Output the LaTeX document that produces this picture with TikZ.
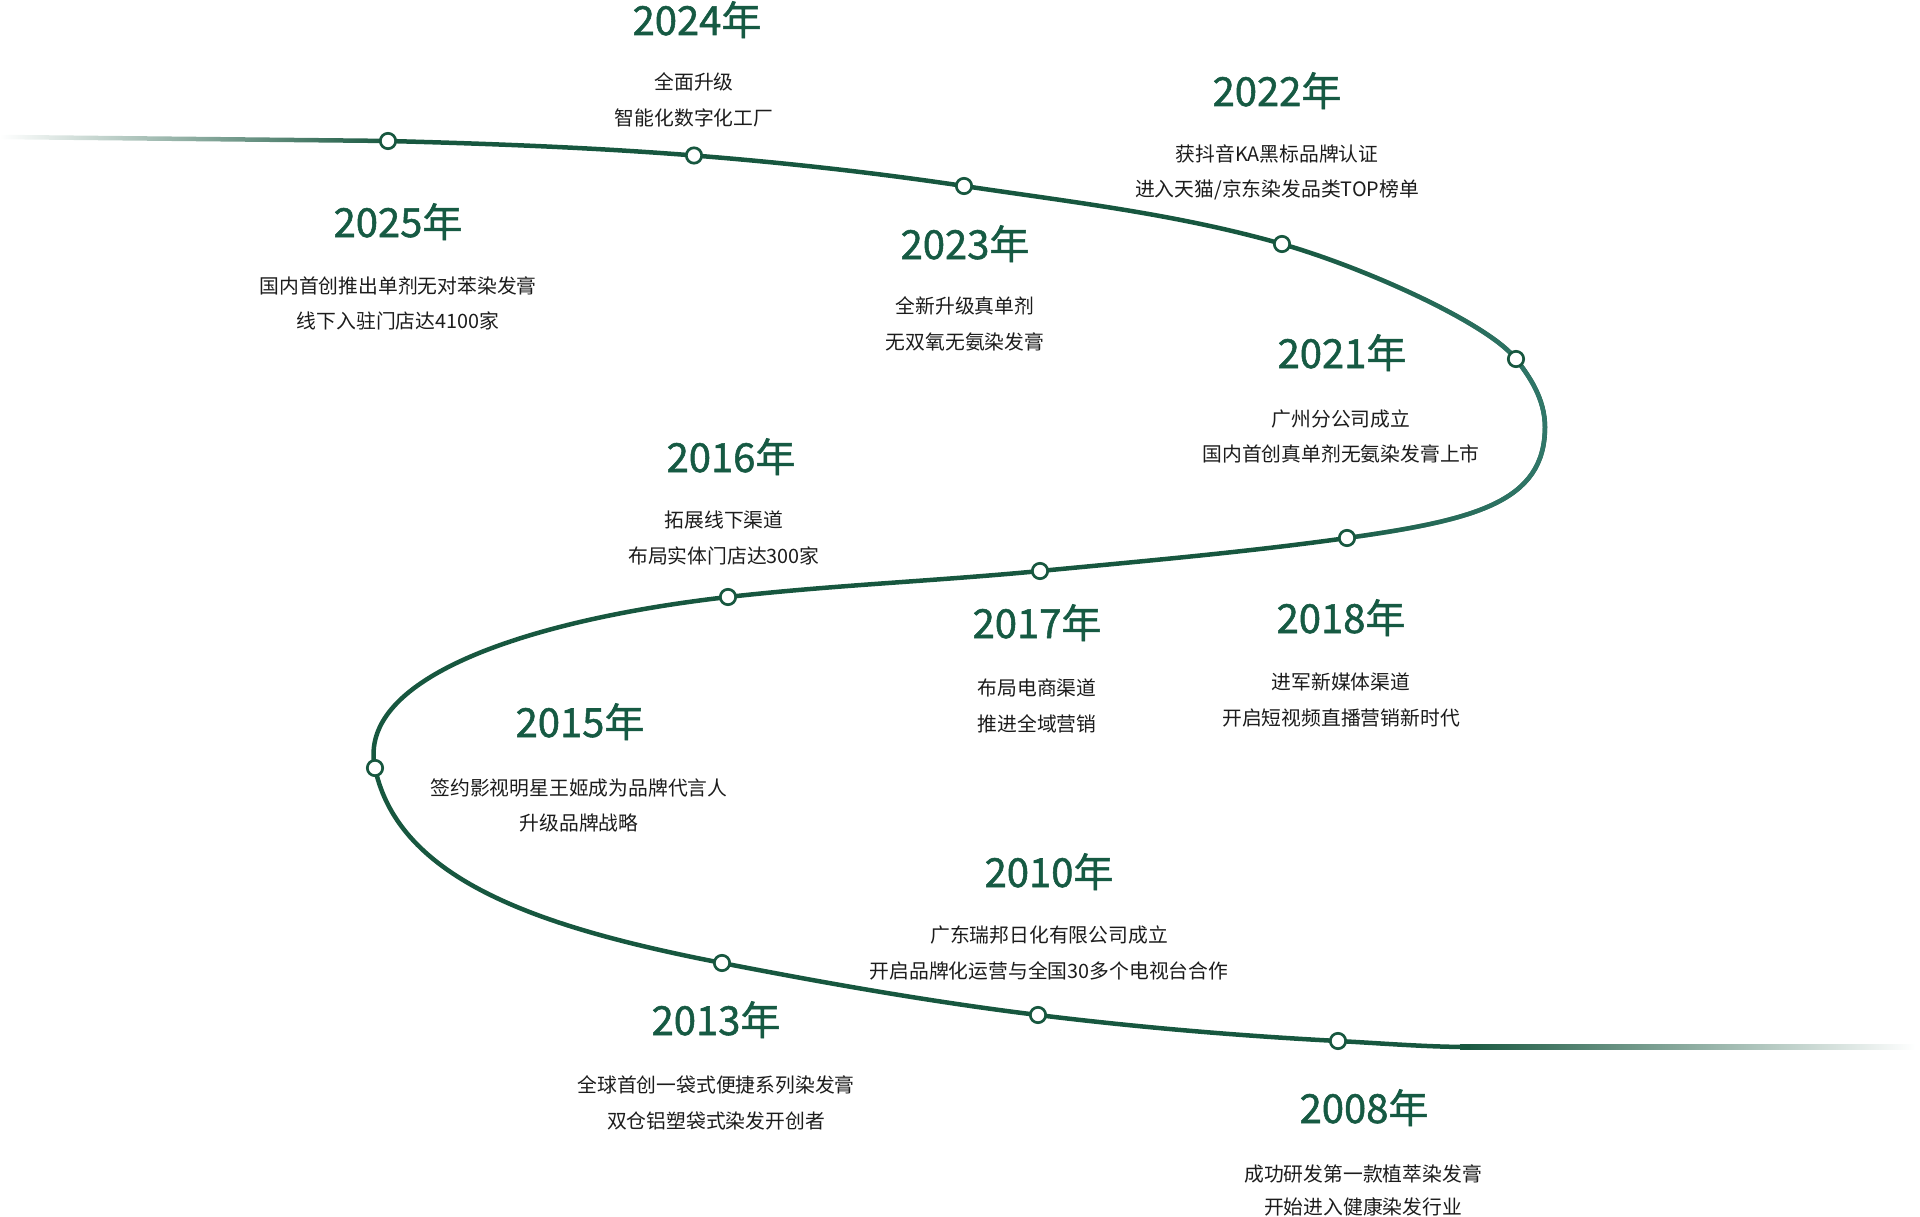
\documentclass[tikz,border=0pt]{standalone}
\usepackage{fontspec}
\usetikzlibrary{fadings}
\setmainfont{Noto Sans CJK SC}
\newfontfamily\yrfam[FakeBold=1.3]{Noto Sans CJK SC}
\definecolor{tlgreen}{HTML}{17573F}
\definecolor{tllight}{HTML}{31786A}
\definecolor{yrgreen}{HTML}{165A43}
\definecolor{txtc}{HTML}{1C1C1C}
\newcommand\yrfont{\yrfam\fontsize{40}{48}\selectfont}
\newcommand\dsfont{\fontsize{19.8}{24}\selectfont}
\tikzfading[name=fadeinright, left color=transparent!100, right color=transparent!0]
\begin{document}
\begin{tikzpicture}[x=1pt,y=-1pt,
  year/.style={font=\yrfont, text=yrgreen, anchor=base, inner sep=0pt},
  desc/.style={font=\dsfont, text=txtc, anchor=base, inner sep=0pt},
  dot/.style={circle, draw=tlgreen, fill=white, line width=2.7pt, minimum size=15.4pt, inner sep=0pt},
  curve/.style={draw=tlgreen, line width=4.5pt}]
\useasboundingbox (0,0) rectangle (1920,1217);

% points on the timeline
\coordinate (p2025) at (388,141);
\coordinate (p2024) at (694,155.5);
\coordinate (p2023) at (964,186);
\coordinate (p2022) at (1282,244);
\coordinate (p2021) at (1516,359);
\coordinate (pR) at (1545,427);
\coordinate (p2018) at (1347,538);
\coordinate (p2017) at (1040,571);
\coordinate (p2016) at (728,597);
\coordinate (p2015) at (375,768);
\coordinate (p2013) at (722,963);
\coordinate (p2010) at (1038,1015);
\coordinate (p2008) at (1338,1041);
\coordinate (pE) at (1470,1047);

% faded ends
\shade[left color=white, middle color=tlgreen!35, right color=tlgreen]
  (0,134.75) -- (392,138.75) -- (392,143.25) -- (0,139.25) -- cycle;
\shade[left color=tlgreen, middle color=tlgreen!50, right color=white]
  (1460,1044.75) rectangle (1915,1049.25);

% main curve
\draw[curve] (p2025)
 .. controls +(1.5:102) and +(184.5:102) .. (p2024)
 .. controls +(4.5:90) and +(188.5:90) .. (p2023)
 .. controls +(8.5:108) and +(196:108) .. (p2022)
 .. controls +(16:87) and +(232:45) .. (p2021)
 .. controls +(52:22) and +(270:28) .. (pR)
 .. controls +(90:75) and +(-8:130) .. (p2018)
 .. controls +(172:102) and +(-5.5:102) .. (p2017)
 .. controls +(174.5:104) and +(-6.5:104) .. (p2016)
 .. controls +(173.5:196) and +(258:94) .. (p2015)
 .. controls +(78:115) and +(191:185) .. (p2013)
 .. controls +(11:107) and +(187:106) .. (p2010)
 .. controls +(7:100) and +(183:100) .. (p2008)
 .. controls +(3:44) and +(180:44) .. (pE);

% lighter tint on the right bend
\draw[draw=tllight, line width=4.5pt, path fading=fadeinright] (p2022)
 .. controls +(16:87) and +(232:45) .. (p2021)
 .. controls +(52:22) and +(270:28) .. (pR)
 .. controls +(90:75) and +(-8:130) .. (p2018);

% dots
\foreach \n in {2025,2024,2023,2022,2021,2018,2017,2016,2015,2013,2010,2008}
  \node[dot] (d\n) at (p\n) {};

% labels
\node[year] (y2024) at (697,35) {2024年};
\node[desc] (a2024) at (694,90) {全面升级};
\node[desc] (b2024) at (694,125.5) {智能化数字化工厂};

\node[year] (y2022) at (1277,106) {2022年};
\node[desc] (a2022) at (1277,161.5) {获抖音KA黑标品牌认证};
\node[desc] (b2022) at (1277,197) {进入天猫/京东染发品类TOP榜单};

\node[year] (y2025) at (398,237) {2025年};
\node[desc] (a2025) at (398,293) {国内首创推出单剂无对苯染发膏};
\node[desc] (b2025) at (398,328.5) {线下入驻门店达4100家};

\node[year] (y2023) at (965,259) {2023年};
\node[desc] (a2023) at (965,313.5) {全新升级真单剂};
\node[desc] (b2023) at (965,349) {无双氧无氨染发膏};

\node[year] (y2021) at (1342,368) {2021年};
\node[desc] (a2021) at (1341,426) {广州分公司成立};
\node[desc] (b2021) at (1341,461.5) {国内首创真单剂无氨染发膏上市};

\node[year] (y2016) at (731,472) {2016年};
\node[desc] (a2016) at (724,527.5) {拓展线下渠道};
\node[desc] (b2016) at (724,563) {布局实体门店达300家};

\node[year] (y2017) at (1037,638) {2017年};
\node[desc] (a2017) at (1037,695.5) {布局电商渠道};
\node[desc] (b2017) at (1037,731) {推进全域营销};

\node[year] (y2018) at (1341,633) {2018年};
\node[desc] (a2018) at (1341,689.5) {进军新媒体渠道};
\node[desc] (b2018) at (1341,725) {开启短视频直播营销新时代};

\node[year] (y2015) at (580,737) {2015年};
\node[desc] (a2015) at (579,795) {签约影视明星王姬成为品牌代言人};
\node[desc] (b2015) at (579,830.5) {升级品牌战略};

\node[year] (y2010) at (1049,887) {2010年};
\node[desc] (a2010) at (1049,942.5) {广东瑞邦日化有限公司成立};
\node[desc] (b2010) at (1049,978) {开启品牌化运营与全国30多个电视台合作};

\node[year] (y2013) at (716,1035) {2013年};
\node[desc] (a2013) at (716,1092.5) {全球首创一袋式便捷系列染发膏};
\node[desc] (b2013) at (716,1128) {双仓铝塑袋式染发开创者};

\node[year] (y2008) at (1364,1123) {2008年};
\node[desc] (a2008) at (1363,1181) {成功研发第一款植萃染发膏};
\node[desc] (b2008) at (1363,1214) {开始进入健康染发行业};
\end{tikzpicture}
\end{document}
